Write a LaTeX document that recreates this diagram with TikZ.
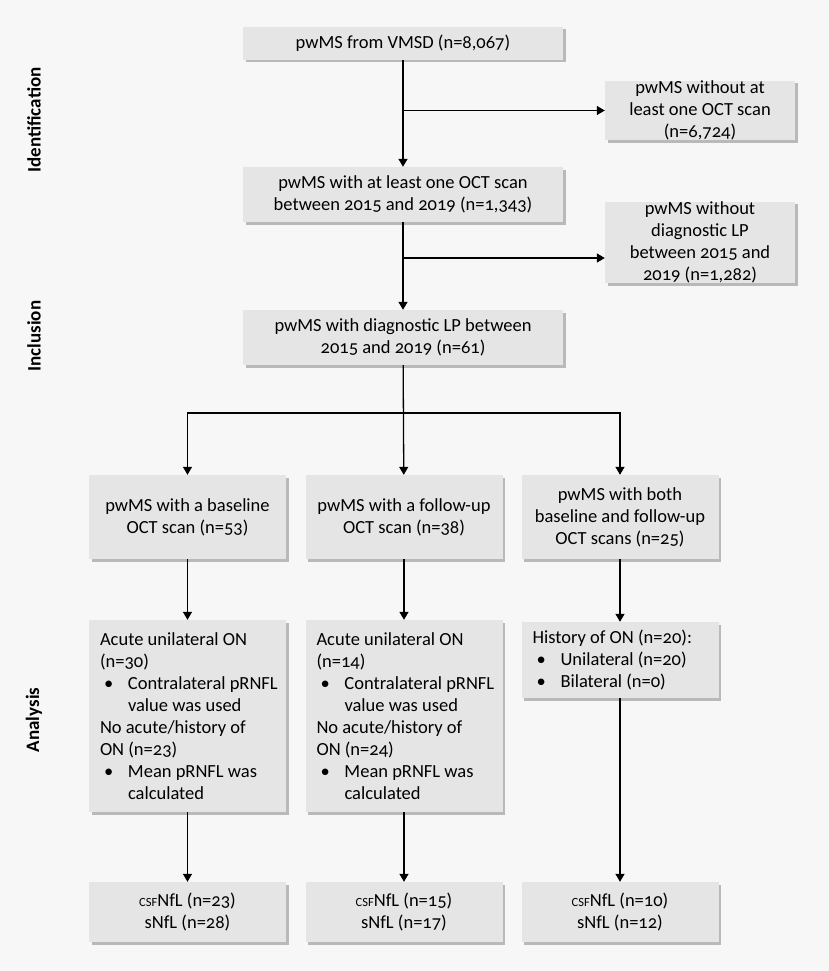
\documentclass[tikz,border=0pt]{standalone}
\usepackage{fontspec}
\setmainfont{Carlito}[Numbers=OldStyle]
\newfontfamily\sidefont{Carlito}[Numbers=OldStyle]
\usetikzlibrary{arrows.meta,shadows}

\definecolor{bgcol}{RGB}{247,247,247}
\definecolor{boxcol}{RGB}{229,229,229}
\definecolor{shadecol}{RGB}{170,170,170}

\newcommand{\bull}{\makebox[28pt][l]{\hspace{4pt}\textbullet}}
\newcommand{\hang}{\hspace*{28pt}}
\newcommand{\csf}{{\fontsize{12.5}{12.5}\selectfont CSF}}

\tikzset{
  box/.style={fill=boxcol, inner sep=0pt, align=center,
    drop shadow={shadow xshift=2.5pt, shadow yshift=-2.5pt, fill=shadecol, opacity=.8},
    font=\fontsize{18.5}{22}\selectfont},
  leftbox/.style={box, align=flush left, text width=#1},
  arr/.style={-{Triangle[length=8pt,width=9pt]}, line width=1.3pt},
  phase/.style={rotate=90, font=\sidefont\bfseries\fontsize{19}{19}\selectfont}
}

\begin{document}
\begin{tikzpicture}[x=1pt,y=-1pt]
\fill[bgcol] (0,0) rectangle (829,971);
\useasboundingbox (0,0) rectangle (829,971);

% phases
\node[phase] (pid) at (34,120) {Identification};
\node[phase] (pin) at (34,336) {Inclusion};
\node[phase] (pan) at (34,720) {Analysis};

% main column
\node[box, minimum width=320pt, minimum height=33pt] (all) at (403,43.5) {pwMS from VMSD (n=8,067)};
\node[box, minimum width=320pt, minimum height=55pt] (oct) at (403,194.5) {pwMS with at least one OCT scan\\between 2015 and 2019 (n=1,343)};
\node[box, minimum width=320pt, minimum height=55pt] (lp) at (403,337.5) {pwMS with diagnostic LP between\\2015 and 2019 (n=61)};

% excluded
\node[box, minimum width=190pt, minimum height=57pt] (exoct) at (700,110.5) {pwMS without at\\least one OCT scan\\(n=6,724)};
\node[box, minimum width=190pt, minimum height=75pt] (exlp) at (700,242.5) {pwMS without\\diagnostic LP\\between 2015 and\\2019 (n=1,282)};

% groups
\node[box, minimum width=197pt, minimum height=84pt] (base) at (187.5,517) {pwMS with a baseline\\OCT scan (n=53)};
\node[box, minimum width=197pt, minimum height=84pt] (fup) at (404,517) {pwMS with a follow-up\\OCT scan (n=38)};
\node[box, minimum width=197pt, minimum height=84pt] (both) at (620,517) {pwMS with both\\baseline and follow-up\\OCT scans (n=25)};

% eye selection
\node[leftbox=175pt, minimum width=197pt, minimum height=192pt] (selbase) at (187.5,716) {%
  Acute unilateral ON\\(n=30)\\
  \bull \mbox{Contralateral pRNFL}\\\hang value was used\\
  No acute/history of\\ON (n=23)\\
  \bull Mean pRNFL was\\\hang calculated};
\node[leftbox=175pt, minimum width=197pt, minimum height=192pt] (selfup) at (404,716) {%
  Acute unilateral ON\\(n=14)\\
  \bull \mbox{Contralateral pRNFL}\\\hang value was used\\
  No acute/history of\\ON (n=24)\\
  \bull Mean pRNFL was\\\hang calculated};
\node[leftbox=175pt, minimum width=197pt, minimum height=76pt] (selboth) at (620,660) {%
  History of ON (n=20):\\
  \bull Unilateral (n=20)\\
  \bull Bilateral (n=0)};

% biomarkers
\node[box, minimum width=197pt, minimum height=60pt] (nflbase) at (187.5,912) {\csf NfL (n=23)\\sNfL (n=28)};
\node[box, minimum width=197pt, minimum height=60pt] (nflfup) at (404,912) {\csf NfL (n=15)\\sNfL (n=17)};
\node[box, minimum width=197pt, minimum height=60pt] (nflboth) at (620,912) {\csf NfL (n=10)\\sNfL (n=12)};

% connectors
\coordinate (s1) at (403,110.5);
\coordinate (s2) at (403,258);
\coordinate (split) at (403,413);
\draw[arr] (all) -- (oct);
\draw[arr] (s1) -- (exoct.west);
\draw[arr] (oct) -- (lp);
\draw[arr] (s2) -- (s2 -| exlp.west);
\draw[arr] (lp) -- (fup);
\draw[arr] (split) -| (base.north);
\draw[arr] (split) -| (both.north);
\draw[arr] (base) -- (selbase);
\draw[arr] (fup) -- (selfup);
\draw[arr] (both) -- (selboth);
\draw[arr] (selbase) -- (nflbase);
\draw[arr] (selfup) -- (nflfup);
\draw[arr] (selboth) -- (nflboth);
\end{tikzpicture}
\end{document}
